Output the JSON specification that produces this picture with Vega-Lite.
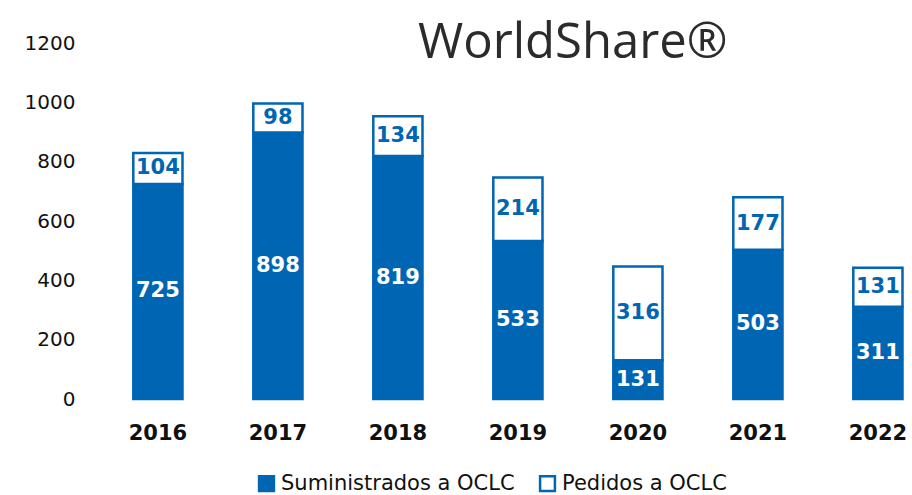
{
  "$schema": "https://vega.github.io/schema/vega-lite/v6.json",
  "autosize": "none",
  "width": 822,
  "height": 356,
  "padding": {"left": 90, "top": 43, "right": 0, "bottom": 96},
  "background": "white",
  "title": {
    "text": "WorldShare®",
    "anchor": "start",
    "frame": "group",
    "orient": "top",
    "dx": 328,
    "dy": 78,
    "font": "Open Sans",
    "fontSize": 49,
    "fontWeight": "normal",
    "color": "#2b2b2b",
    "baseline": "alphabetic"
  },
  "data": {
    "values": [
      {"anio": "2016", "serie": "Suministrados a OCLC", "valor": 725},
      {"anio": "2016", "serie": "Pedidos a OCLC", "valor": 104},
      {"anio": "2017", "serie": "Suministrados a OCLC", "valor": 898},
      {"anio": "2017", "serie": "Pedidos a OCLC", "valor": 98},
      {"anio": "2018", "serie": "Suministrados a OCLC", "valor": 819},
      {"anio": "2018", "serie": "Pedidos a OCLC", "valor": 134},
      {"anio": "2019", "serie": "Suministrados a OCLC", "valor": 533},
      {"anio": "2019", "serie": "Pedidos a OCLC", "valor": 214},
      {"anio": "2020", "serie": "Suministrados a OCLC", "valor": 131},
      {"anio": "2020", "serie": "Pedidos a OCLC", "valor": 316},
      {"anio": "2021", "serie": "Suministrados a OCLC", "valor": 503},
      {"anio": "2021", "serie": "Pedidos a OCLC", "valor": 177},
      {"anio": "2022", "serie": "Suministrados a OCLC", "valor": 311},
      {"anio": "2022", "serie": "Pedidos a OCLC", "valor": 131}
    ]
  },
  "transform": [
    {"stack": "valor", "groupby": ["anio"], "as": ["v0", "v1"], "sort": [{"field": "serie", "order": "descending"}]},
    {"calculate": "(datum.v0 + datum.v1) / 2", "as": "vmid"}
  ],
  "encoding": {
    "x": {
      "field": "anio",
      "type": "nominal",
      "title": null,
      "scale": {"paddingInner": 0.59, "paddingOuter": 0.22, "align": 0.82},
      "axis": {
        "labelAngle": 0,
        "labelFont": "DejaVu Sans",
        "labelFontSize": 21,
        "labelFontWeight": "bold",
        "labelColor": "#111111",
        "labelPadding": 23,
        "domain": false,
        "ticks": false,
        "grid": false
      }
    }
  },
  "layer": [
    {
      "mark": {"type": "bar", "stroke": "#0066b3", "strokeWidth": 2.5},
      "encoding": {
        "y": {
          "field": "v0",
          "type": "quantitative",
          "title": null,
          "scale": {"domain": [0, 1200]},
          "axis": {
            "values": [0, 200, 400, 600, 800, 1000, 1200],
            "format": "d",
            "labelFont": "DejaVu Sans",
            "labelFontSize": 20,
            "labelColor": "#111111",
            "labelPadding": 15,
            "domain": false,
            "ticks": false,
            "grid": false
          }
        },
        "y2": {"field": "v1"},
        "fill": {
          "field": "serie",
          "type": "nominal",
          "scale": {"domain": ["Suministrados a OCLC", "Pedidos a OCLC"], "range": ["#0066b3", "#ffffff"]},
          "legend": {
            "title": null,
            "orient": "none",
            "direction": "horizontal",
            "legendX": 166,
            "legendY": 430,
            "symbolType": "square",
            "symbolSize": 220,
            "symbolStrokeColor": "#0066b3",
            "symbolStrokeWidth": 2.5,
            "labelFont": "DejaVu Sans",
            "labelFontSize": 21,
            "labelColor": "#111111",
            "labelOffset": 4,
            "columnPadding": 20,
            "labelLimit": 400
          }
        }
      }
    },
    {
      "mark": {"type": "text", "font": "DejaVu Sans", "fontSize": 21, "fontWeight": "bold", "baseline": "middle"},
      "encoding": {
        "y": {"field": "vmid", "type": "quantitative"},
        "text": {"field": "valor", "type": "quantitative"},
        "color": {
          "condition": {"test": "datum.serie === 'Suministrados a OCLC'", "value": "#ffffff"},
          "value": "#0066b3"
        }
      }
    }
  ],
  "config": {"view": {"stroke": null}}
}
